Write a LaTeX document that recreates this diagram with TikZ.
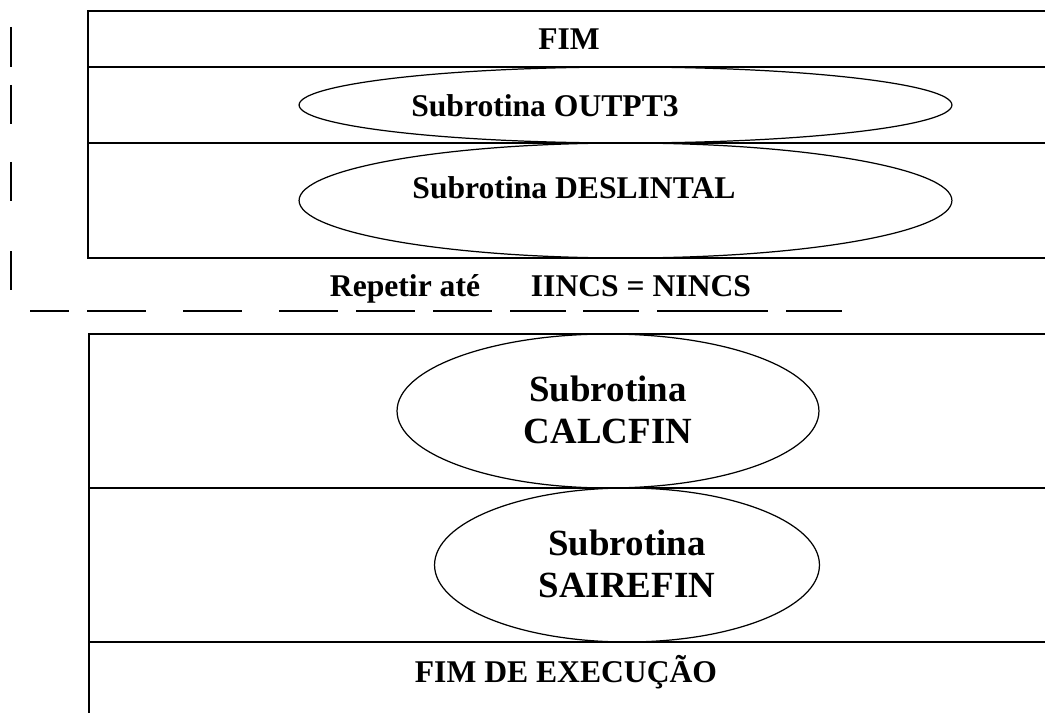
\documentclass[tikz,border=0pt]{standalone}
\usepackage{fontspec}
\setmainfont{Liberation Serif}
\usetikzlibrary{shapes.geometric, positioning}

\begin{document}
\begin{tikzpicture}[
    x=0.02cm, y=-0.02cm,
    frame/.style={
        draw,
        line width=0.8pt
    },
    loopdash/.style={
        draw,
        line width=0.9pt
    },
    subr/.style={
        ellipse,
        draw,
        line width=0.7pt,
        inner sep=0pt
    },
    title/.style={
        anchor=base,
        font=\fontsize{18}{21}\selectfont\bfseries
    },
    bigtitle/.style={
        align=center,
        font=\fontsize{21}{24}\selectfont\bfseries
    }
]
    \useasboundingbox (0,0) rectangle (1045,713);

    % Upper block (inside the loop)
    \draw[frame] (1045,11) -- (88,11) -- (88,258) -- (1045,258);
    \draw[frame] (88,67) -- (1045,67);
    \draw[frame] (88,143) -- (1045,143);

    \node[title] (fim) at (569,50) {FIM};

    \node[subr, minimum width=13.06cm, minimum height=1.52cm] (outpt) at (625.5,105) {};
    \node[title] (outptlbl) at (545,117) {Subrotina OUTPT3};

    \node[subr, minimum width=13.06cm, minimum height=2.3cm] (deslin) at (625.5,200.5) {};
    \node[title] (deslinlbl) at (574,198) {Subrotina DESLINTAL};

    % Loop marks
    \foreach \ya/\yb in {27/67, 85/124, 162/201, 251/290}
        \draw[loopdash] (11,\ya) -- (11,\yb);
    \foreach \xa/\xb in {30/69, 87/146, 183/242, 279/338, 356/415, 433/492, 510/566, 583/639, 657/768, 786/842}
        \draw[loopdash] (\xa,311) -- (\xb,311);

    \node[title] (repetir) at (405,296) {Repetir até};
    \node[title] (cond) at (641,296) {IINCS = NINCS};

    % Lower block
    \draw[frame] (1045,334) -- (89,334) -- (89,713);
    \draw[frame] (89,488) -- (1045,488);
    \draw[frame] (89,642) -- (1045,642);

    \node[subr, minimum width=8.44cm, minimum height=3.08cm] (calc) at (608,411) {};
    \node[bigtitle] (calclbl) at (608,410) {Subrotina\\CALCFIN};

    \node[subr, minimum width=7.7cm, minimum height=3.08cm] (saire) at (627,565) {};
    \node[bigtitle] (sairelbl) at (627,564) {Subrotina\\SAIREFIN};

    \node[title] (fimexec) at (566,682) {FIM DE EXECUÇÃO};

\end{tikzpicture}
\end{document}
